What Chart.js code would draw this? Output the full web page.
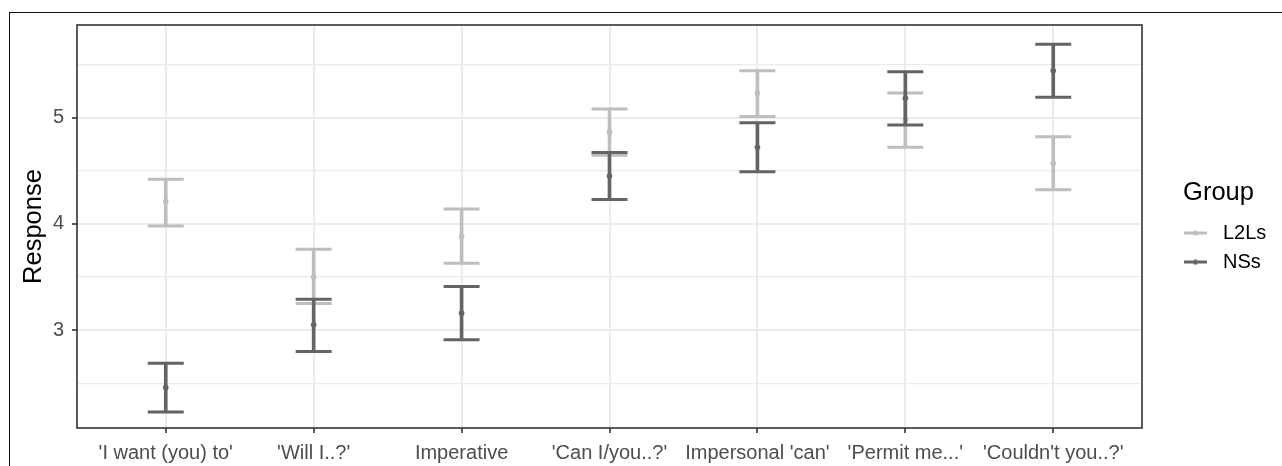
<!DOCTYPE html>
<html>
<head>
<meta charset="utf-8">
<script src="https://cdn.jsdelivr.net/npm/chart.js@4.4.1/dist/chart.umd.min.js"></script>
<style>
  html, body { margin: 0; padding: 0; background: #fff; }
  #frame { position: absolute; left: 9px; top: 12px; width: 1400px; height: 600px;
           border-top: 1px solid #111; border-left: 1px solid #111; }
  #wrap { position: absolute; left: 0; top: 0; width: 1282px; height: 466px; }
</style>
</head>
<body>
<div id="frame"></div>
<div id="wrap"><canvas id="myChart" width="1282" height="466"></canvas></div>
<script>
// Response means with error-bar limits, per request type
const categories = ["'I want (you) to'", "'Will I..?'", "Imperative", "'Can I/you..?'", "Impersonal 'can'", "'Permit me...'", "'Couldn't you..?'"];

const l2lsMean  = [4.21, 3.50, 3.88, 4.86, 5.23, 4.98, 4.57];
const l2lsLower = [3.98, 3.25, 3.63, 4.645, 5.01, 4.72, 4.32];
const l2lsUpper = [4.42, 3.76, 4.14, 5.08, 5.44, 5.23, 4.82];

const nssMean  = [2.46, 3.05, 3.16, 4.45, 4.72, 5.18, 5.44];
const nssLower = [2.23, 2.80, 2.91, 4.23, 4.49, 4.93, 5.19];
const nssUpper = [2.69, 3.29, 3.41, 4.67, 4.95, 5.43, 5.69];

const yTicks = [2.5, 3, 3.5, 4, 4.5, 5, 5.5];

const L2_COLOR = '#bebebe';
const NS_COLOR = '#646464';

Chart.defaults.font.family = "'Liberation Sans', Arial, sans-serif";

function legendIcon(color) {
    const c = document.createElement('canvas');
    c.width = 23; c.height = 7;
    const g = c.getContext('2d');
    g.fillStyle = color;
    g.fillRect(0, 2, 23, 3);
    g.beginPath();
    g.arc(11.5, 3.5, 2.6, 0, Math.PI * 2);
    g.fill();
    return c;
}

function groupSets(name, color, lower, upper, mean, baseOrder) {
    return [
        {
            type: 'bar',
            label: name,
            data: categories.map((c, i) => ({ x: i, y: [lower[i], upper[i]] })),
            backgroundColor: color,
            barThickness: 3,
            grouped: false,
            order: baseOrder + 2,
        },
        {
            type: 'scatter',
            label: name,
            data: lower.map((v, i) => ({ x: i, y: v })).concat(upper.map((v, i) => ({ x: i, y: v }))),
            pointStyle: 'line',
            pointRadius: 18,
            borderWidth: 3,
            borderColor: color,
            order: baseOrder + 1,
        },
        {
            type: 'scatter',
            label: name,
            data: mean.map((v, i) => ({ x: i, y: v })),
            pointStyle: 'circle',
            pointRadius: 2.8,
            borderWidth: 0,
            backgroundColor: color,
            order: baseOrder,
        },
    ];
}

const panelBorder = {
    id: 'panelBorder',
    afterDatasetsDraw(chart) {
        const { ctx, chartArea: a } = chart;
        ctx.save();
        ctx.strokeStyle = '#333333';
        ctx.lineWidth = 1.6;
        ctx.strokeRect(a.left, a.top, a.right - a.left, a.bottom - a.top);
        ctx.restore();
    }
};

const ctx = document.getElementById('myChart').getContext('2d');
const myChart = new Chart(ctx, {
    type: 'scatter',
    data: {
        datasets: [
            ...groupSets('L2Ls', L2_COLOR, l2lsLower, l2lsUpper, l2lsMean, 4),
            ...groupSets('NSs', NS_COLOR, nssLower, nssUpper, nssMean, 1),
        ],
    },
    options: {
        responsive: false,
        animation: false,
        events: [],
        layout: { padding: { top: 25, left: 0, right: 14, bottom: 0 } },
        scales: {
            x: {
                type: 'linear',
                offset: false,
                min: -0.6,
                max: 6.6,
                afterBuildTicks: (axis) => { axis.ticks = categories.map((c, i) => ({ value: i })); },
                afterFit: (axis) => { axis.height = 38; },
                ticks: {
                    callback: (v) => categories[v],
                    autoSkip: false,
                    maxRotation: 0,
                    padding: 8,
                    color: '#4d4d4d',
                    font: { size: 20 },
                },
                grid: { offset: false, color: '#ebebeb', lineWidth: 2, tickColor: '#333333', tickWidth: 1.6, tickLength: 5 },
                border: { display: false },
            },
            y: {
                min: 2.08,
                max: 5.87,
                afterBuildTicks: (axis) => { axis.ticks = yTicks.map(v => ({ value: v })); },
                afterFit: (axis) => { axis.width = 77; },
                ticks: {
                    callback: (v) => Number.isInteger(v) ? String(v) : '',
                    padding: 8,
                    color: '#4d4d4d',
                    font: { size: 20 },
                },
                grid: {
                    color: '#ebebeb',
                    lineWidth: (c) => Number.isInteger(c.tick.value) ? 2 : 1.2,
                    tickColor: (c) => Number.isInteger(c.tick.value) ? '#333333' : 'rgba(0,0,0,0)',
                    tickWidth: 1.6,
                    tickLength: 5,
                },
                border: { display: false },
                title: {
                    display: true,
                    text: 'Response',
                    color: '#000',
                    font: { size: 25.5 },
                    padding: { top: 19, bottom: 0 },
                },
            },
            gap: {
                type: 'linear',
                position: 'right',
                display: true,
                afterFit: (axis) => { axis.width = 27; },
                grid: { display: false, drawTicks: false },
                ticks: { display: false },
                border: { display: false },
            },
        },
        plugins: {
            tooltip: { enabled: false },
            legend: {
                position: 'right',
                fullSize: false,
                maxWidth: 99,
                title: {
                    display: true,
                    text: 'Group',
                    position: 'center',
                    color: '#000',
                    font: { size: 25.5 },
                    padding: { top: 8, bottom: 3.4 },
                },
                labels: {
                    usePointStyle: true,
                    pointStyleWidth: 35,
                    padding: 9,
                    color: '#000',
                    font: { size: 20 },
                    generateLabels: () => [
                        { text: 'L2Ls', pointStyle: legendIcon(L2_COLOR), fillStyle: L2_COLOR, strokeStyle: L2_COLOR, lineWidth: 0, hidden: false, fontColor: '#000' },
                        { text: 'NSs', pointStyle: legendIcon(NS_COLOR), fillStyle: NS_COLOR, strokeStyle: NS_COLOR, lineWidth: 0, hidden: false, fontColor: '#000' },
                    ],
                },
            },
        },
    },
    plugins: [panelBorder],
});
</script>
</body>
</html>
